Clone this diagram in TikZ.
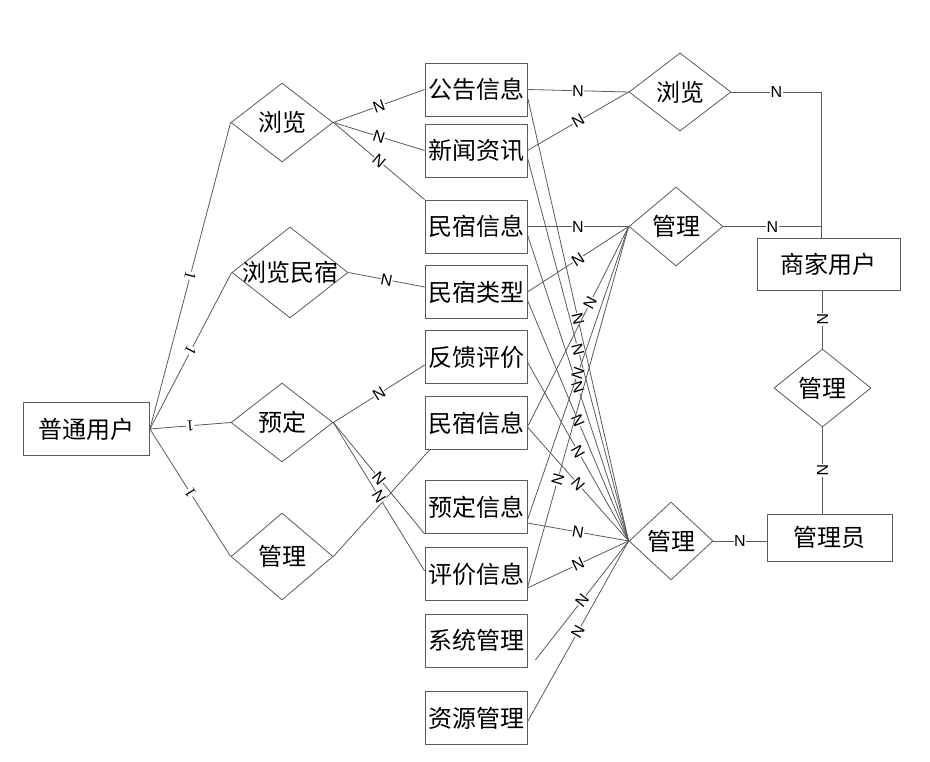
\documentclass[tikz,border=0pt]{standalone}
\usepackage{fontspec}
\setmainfont{Liberation Sans}
\newfontfamily\cjk{Noto Sans CJK SC}
\newfontfamily\serifone{Liberation Serif}
\usetikzlibrary{shapes.geometric,calc}
\definecolor{linec}{RGB}{90,90,90}
\begin{document}
\begin{tikzpicture}[x=1pt,y=-1pt,
  font=\cjk\fontsize{24}{28}\selectfont,
  line/.style={draw=linec, line width=0.8pt},
  ent/.style={draw=linec, line width=0.8pt, rectangle, inner sep=0pt, minimum width=102pt, minimum height=53pt},
  dia/.style={draw=linec, line width=0.8pt, diamond, inner sep=0pt},
  lab/.style={font=\rmfamily\fontsize{16}{16}\selectfont, fill=white, inner sep=0.3pt, sloped},
  one/.style={font=\serifone\fontsize{16}{16}\selectfont, fill=white, inner sep=0.3pt, sloped, allow upside down}]
\useasboundingbox (0,0) rectangle (930,762);

% entities
\node[ent, minimum width=126pt] (u) at (86.5,429) {普通用户};
\node[ent] (r1) at (476,89.5) {公告信息};
\node[ent] (r2) at (476,150.5) {新闻资讯};
\node[ent] (r3) at (476,226.5) {民宿信息};
\node[ent] (r4) at (476,292) {民宿类型};
\node[ent] (r5) at (476,357) {反馈评价};
\node[ent] (r6) at (476,423) {民宿信息};
\node[ent] (r7) at (476,507) {预定信息};
\node[ent] (r8) at (476,574) {评价信息};
\node[ent] (r9) at (476,640.5) {系统管理};
\node[ent] (r10) at (476,718) {资源管理};
\node[ent, minimum width=143pt, minimum height=52pt] (m) at (828.5,264) {商家用户};
\node[ent, minimum width=125pt, minimum height=47pt] (a) at (829.5,537.5) {管理员};

% relationships
\node[dia, minimum width=102pt, minimum height=79pt, label=center:浏览] (d1) at (282,122.5) {};
\node[dia, minimum width=116pt, minimum height=91pt, label=center:浏览民宿] (d2) at (290,272.5) {};
\node[dia, minimum width=102pt, minimum height=79pt, label=center:预定] (d3) at (282,422.5) {};
\node[dia, minimum width=102pt, minimum height=87pt, label=center:管理] (d4) at (282,556.5) {};
\node[dia, minimum width=102pt, minimum height=78pt, label=center:浏览] (e1) at (680,92) {};
\node[dia, minimum width=94pt, minimum height=79pt, label=center:管理] (e2) at (676,226.5) {};
\node[dia, minimum width=84pt, minimum height=78pt, label=center:管理] (e3) at (671,541) {};
\node[dia, minimum width=97pt, minimum height=78pt, label=center:管理] (e4) at (822.5,388) {};

% left connectors
\draw[line] (d1.west) -- node[one]{1} (u.east);
\draw[line] (d2.west) -- node[one]{1} (u.east);
\draw[line] (d3.west) -- node[one]{1} (u.east);
\draw[line] (d4.west) -- node[one]{1} (u.east);

\draw[line] (d4.east) -- ($(r6.south west)+(5,0)$);
\draw[line] (d1.east) -- node[lab]{N} (r1.west);
\draw[line] (d1.east) -- node[lab]{N} (r2.west);
\draw[line] (d1.east) -- node[lab]{N} (r3.north west);
\draw[line] (d2.east) -- node[lab]{N} ($(r4.west)+(0,-5)$);
\draw[line] (d3.east) -- node[lab]{N} ($(r5.west)+(0,8)$);
\draw[line] (d3.east) -- node[lab]{N} (r7.south west);
\draw[line] (d3.east) -- node[lab]{N} ($(r8.west)+(0,-3)$);

% middle connectors to the lower 管理
\draw[line] ($(r1.east)+(0,7)$) -- node[lab]{N} (e3.west);
\draw[line] ($(r2.east)+(0,7)$) -- node[lab]{N} (e3.west);
\draw[line] ($(r3.east)+(0,8)$) -- node[lab]{N} (e3.west);
\draw[line] ($(r4.east)+(0,8)$) -- node[lab]{N} (e3.west);
\draw[line] ($(r5.east)+(0,5)$) -- node[lab]{N} (e3.west);
\draw[line] ($(r6.east)+(0,4)$) -- node[lab]{N} (e3.west);
\draw[line] ($(r7.east)+(0,16)$) -- node[lab]{N} (e3.west);
\draw[line] ($(r8.east)+(0,14)$) -- node[lab]{N} (e3.west);
\coordinate (s9) at ($(r9.east)+(8,19.5)$);
\draw[line] (s9) -- node[lab]{N} (e3.west);
\draw[line] ($(r10.east)+(0,4)$) -- node[lab]{N} (e3.west);

% middle connectors to upper diamonds
\draw[line] (r1.east) -- node[lab]{N} (e1.west);
\draw[line] (r2.east) -- node[lab]{N} (e1.west);
\draw[line] (r3.east) -- node[lab]{N} (e2.west);
\draw[line] (r4.east) -- node[lab]{N} (e2.west);
\draw[line] ($(r6.east)+(0,4)$) -- node[lab,pos=0.62]{N} (e2.west);
\draw[line] ($(r7.east)+(0,13)$) -- node[lab]{N} (e2.west);
\draw[line] ($(r8.east)+(0,14)$) -- node[lab,pos=0.3]{N} (e2.west);

% right connectors
\coordinate (mt) at ($(m.north)+(-7,0)$);
\draw[line] (e1.east) -| node[lab,pos=0.25]{N} (mt);
\draw[line] (e2.east) -| node[lab,pos=0.25]{N} (mt);
\draw[line] (m.south -| e4.north) -- node[lab]{N} (e4.north);
\draw[line] (e4.south) -- node[lab]{N} (e4.south |- a.north);
\draw[line] (e3.east) -- node[lab]{N} (e3.east -| a.west);
\end{tikzpicture}
\end{document}
